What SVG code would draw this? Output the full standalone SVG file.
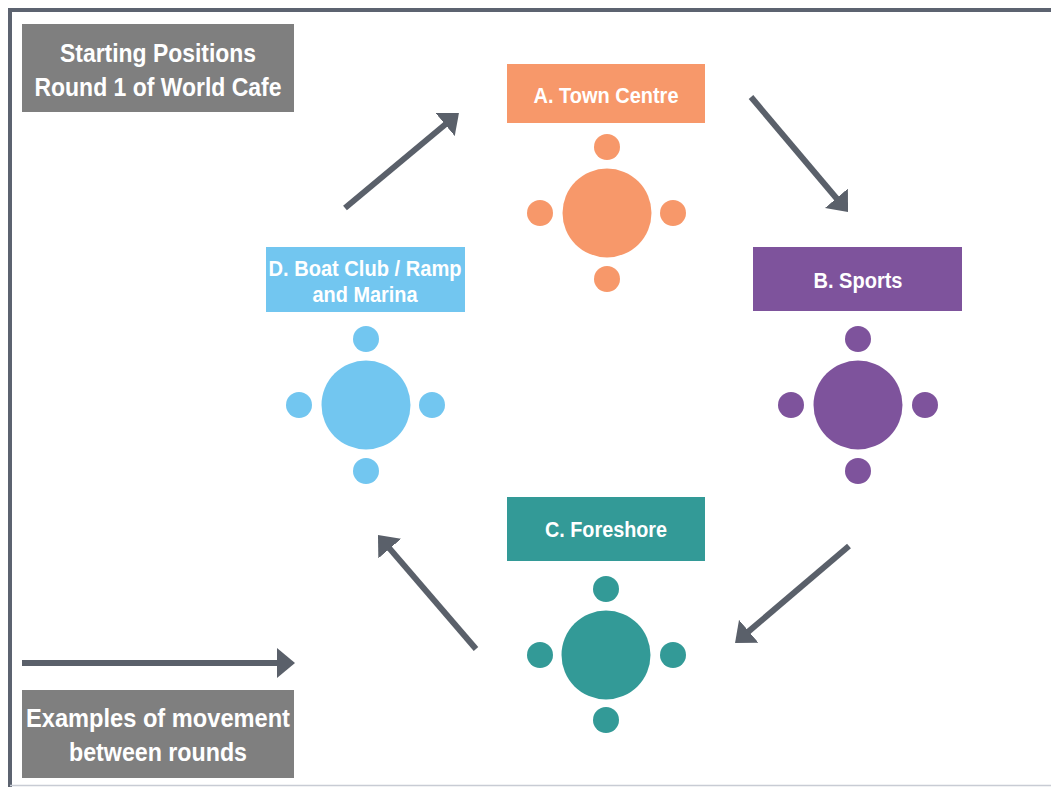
<svg xmlns="http://www.w3.org/2000/svg" width="1051" height="787" viewBox="0 0 1051 787">
  <style>
    .lbl { font-family: "Liberation Sans", Arial, sans-serif; fill: #ffffff; text-anchor: middle; font-weight: bold; }
    .big { font-size: 25px; }
    .mid { font-size: 22px; }
    .gray { fill: #7f7f7f; }
    .conn { stroke: #5a606a; stroke-width: 6; fill: none; marker-end: url(#head); }
    .orange { fill: #f7986a; }
    .purple { fill: #7e539c; }
    .teal { fill: #339a97; }
    .blue { fill: #72c6f0; }
  </style>
  <defs>
    <marker id="head" markerUnits="userSpaceOnUse" markerWidth="18" markerHeight="30" viewBox="0 0 18 30" refX="4" refY="15" orient="auto">
      <path d="M0,0 L18,15 L0,30 Z" fill="#5a606a"/>
    </marker>
  </defs>
  <rect x="0" y="0" width="1051" height="787" fill="#ffffff"/>
  <g id="frame">
    <path d="M10,787 L10,10 L1051,10" fill="none" stroke="#5c6370" stroke-width="4"/>
    <line x1="10" y1="785.5" x2="1051" y2="785.5" stroke="#c8ccd4" stroke-width="1.5"/>
  </g>
  <g id="title">
    <rect class="gray" x="22" y="24" width="272" height="88"/>
    <text class="lbl big" x="158" y="62" textLength="196" lengthAdjust="spacingAndGlyphs">Starting Positions</text>
    <text class="lbl big" x="158" y="96" textLength="247" lengthAdjust="spacingAndGlyphs">Round 1 of World Cafe</text>
  </g>
  <g id="legend">
    <rect class="gray" x="22" y="690" width="272" height="88"/>
    <text class="lbl big" x="158" y="727" textLength="264" lengthAdjust="spacingAndGlyphs">Examples of movement</text>
    <text class="lbl big" x="158" y="761" textLength="178" lengthAdjust="spacingAndGlyphs">between rounds</text>
  </g>
  <g id="connectors">
    <line class="conn" x1="345" y1="208" x2="448.2" y2="122"/>
    <line class="conn" x1="751" y1="97" x2="839" y2="201.3"/>
    <line class="conn" x1="849" y1="546" x2="745.7" y2="633.9"/>
    <line class="conn" x1="476" y1="649" x2="387.1" y2="545.6"/>
    <line class="conn" x1="22" y1="663" x2="281" y2="663"/>
  </g>
  <g id="tableA">
    <rect class="orange" x="507" y="64" width="198" height="59"/>
    <text class="lbl mid" x="606" y="103" textLength="145" lengthAdjust="spacingAndGlyphs">A. Town Centre</text>
    <circle class="orange" cx="607" cy="213" r="44.5"/>
    <circle class="orange" cx="607" cy="147" r="13"/>
    <circle class="orange" cx="540" cy="213" r="13"/>
    <circle class="orange" cx="673" cy="213" r="13"/>
    <circle class="orange" cx="607" cy="279" r="13"/>
  </g>
  <g id="tableB">
    <rect class="purple" x="753" y="247" width="209" height="64"/>
    <text class="lbl mid" x="858" y="288" textLength="89" lengthAdjust="spacingAndGlyphs">B. Sports</text>
    <circle class="purple" cx="858" cy="405" r="44.5"/>
    <circle class="purple" cx="858" cy="339" r="13"/>
    <circle class="purple" cx="791" cy="405" r="13"/>
    <circle class="purple" cx="925" cy="405" r="13"/>
    <circle class="purple" cx="858" cy="471" r="13"/>
  </g>
  <g id="tableC">
    <rect class="teal" x="507" y="497" width="198" height="64"/>
    <text class="lbl mid" x="606" y="537" textLength="122" lengthAdjust="spacingAndGlyphs">C. Foreshore</text>
    <circle class="teal" cx="606" cy="655" r="44.5"/>
    <circle class="teal" cx="606" cy="589" r="13"/>
    <circle class="teal" cx="540" cy="655" r="13"/>
    <circle class="teal" cx="673" cy="655" r="13"/>
    <circle class="teal" cx="606" cy="720" r="13"/>
  </g>
  <g id="tableD">
    <rect class="blue" x="266" y="247" width="199" height="65"/>
    <text class="lbl mid" x="365" y="276" textLength="193" lengthAdjust="spacingAndGlyphs">D. Boat Club / Ramp</text>
    <text class="lbl mid" x="365" y="302" textLength="105" lengthAdjust="spacingAndGlyphs">and Marina</text>
    <circle class="blue" cx="366" cy="405" r="44.5"/>
    <circle class="blue" cx="366" cy="339" r="13"/>
    <circle class="blue" cx="299" cy="405" r="13"/>
    <circle class="blue" cx="432" cy="405" r="13"/>
    <circle class="blue" cx="366" cy="471" r="13"/>
  </g>
</svg>
